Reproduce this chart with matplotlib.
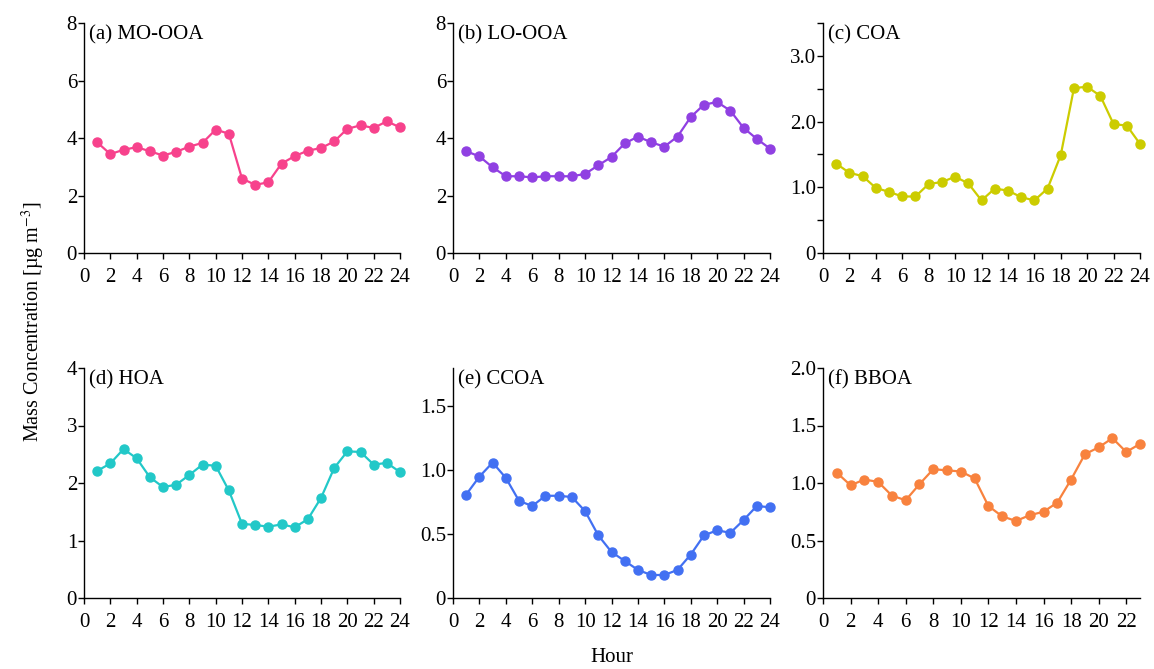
import numpy as np
import matplotlib
matplotlib.use("Agg")
import matplotlib.pyplot as plt
from matplotlib.ticker import FixedLocator

plt.rcParams["font.family"] = ["Liberation Serif", "DejaVu Serif"]
plt.rcParams["mathtext.fontset"] = "stix"

# ── data ──────────────────────────────────────
hours = list(range(1, 25))
hours_f = list(range(1, 24))

mo_ooa = [3.85, 3.44, 3.59, 3.68, 3.54, 3.39, 3.52, 3.70, 3.83, 4.29, 4.15, 2.59,
          2.37, 2.46, 3.11, 3.37, 3.56, 3.65, 3.88, 4.32, 4.44, 4.35, 4.58, 4.37]
lo_ooa = [3.54, 3.36, 2.98, 2.67, 2.67, 2.63, 2.67, 2.67, 2.67, 2.75, 3.05, 3.34,
          3.81, 4.05, 3.85, 3.70, 4.05, 4.73, 5.16, 5.25, 4.95, 4.35, 3.97, 3.63]
coa = [1.36, 1.22, 1.17, 0.99, 0.93, 0.86, 0.86, 1.05, 1.08, 1.16, 1.06, 0.80,
       0.98, 0.95, 0.85, 0.80, 0.98, 1.49, 2.51, 2.53, 2.39, 1.96, 1.94, 1.66]
hoa = [2.21, 2.34, 2.59, 2.43, 2.10, 1.93, 1.97, 2.14, 2.32, 2.30, 1.87, 1.29,
       1.27, 1.24, 1.28, 1.23, 1.37, 1.74, 2.26, 2.55, 2.54, 2.32, 2.35, 2.19]
ccoa = [0.81, 0.95, 1.06, 0.94, 0.76, 0.72, 0.80, 0.80, 0.79, 0.68, 0.49, 0.36,
        0.29, 0.22, 0.18, 0.18, 0.22, 0.34, 0.49, 0.53, 0.51, 0.61, 0.72, 0.71]
bboa = [1.09, 0.98, 1.03, 1.01, 0.89, 0.85, 0.99, 1.12, 1.11, 1.10, 1.04, 0.80,
        0.71, 0.67, 0.72, 0.75, 0.83, 1.03, 1.25, 1.31, 1.39, 1.27, 1.34]

labels = ["(a) MO-OOA", "(b) LO-OOA", "(c) COA", "(d) HOA", "(e) CCOA", "(f) BBOA"]
colors = ["#F7428C", "#9040E2", "#CCCC00", "#22C8C8", "#4270F2", "#F8823E"]

# ── figure ────────────────────────────────────
fig = plt.figure(figsize=(11.54, 6.69), dpi=100)
W, H = 1154, 669
lefts = [84, 453, 823]
rights = [400, 770, 1140]
rows = [(23, 253), (368, 598)]

panels = [
    (hours, mo_ooa, (0, 8), [0, 2, 4, 6, 8], ["0", "2", "4", "6", "8"], 24),
    (hours, lo_ooa, (0, 8), [0, 2, 4, 6, 8], ["0", "2", "4", "6", "8"], 24),
    (hours, coa, (0, 3.5), [0, 1, 2, 3], ["0", "1.0", "2.0", "3.0"], 24),
    (hours, hoa, (0, 4), [0, 1, 2, 3, 4], ["0", "1", "2", "3", "4"], 24),
    (hours, ccoa, (0, 1.8), [0, 0.5, 1.0, 1.5], ["0", "0.5", "1.0", "1.5"], 24),
    (hours_f, bboa, (0, 2.0), [0, 0.5, 1.0, 1.5, 2.0], ["0", "0.5", "1.0", "1.5", "2.0"], 23),
]

for i, (x, y, ylim, yt, ytl, xmax) in enumerate(panels):
    r, c = divmod(i, 3)
    top, bot = rows[r]
    ax = fig.add_axes([lefts[c] / W, 1 - bot / H,
                       (rights[c] - lefts[c]) / W, (bot - top) / H])
    ax.plot(x, y, "-o", color=colors[i], lw=1.6, ms=6.5, clip_on=False)
    ax.set_xlim(0, xmax)
    ax.set_ylim(*ylim)
    ax.set_xticks(range(0, 25, 2) if xmax == 24 else range(0, 23, 2))
    ax.set_yticks(yt)
    ax.set_yticklabels(ytl)
    if i == 2:
        ax.yaxis.set_minor_locator(FixedLocator([0.5, 1.5, 2.5, 3.5]))
    for s in ["top", "right"]:
        ax.spines[s].set_visible(False)
    for s in ["left", "bottom"]:
        ax.spines[s].set_linewidth(1.0)
    ax.tick_params(direction="out", length=4, width=1.0, labelsize=15)
    ax.tick_params(axis="x", pad=7)
    ax.tick_params(axis="y", pad=1)
    ax.tick_params(which="minor", direction="out", length=4, width=1.0)
    ax.text(0.015, 0.99, labels[i], transform=ax.transAxes, fontsize=15,
            ha="left", va="top")

fig.text(33 / W, 1 - 322 / H, "Mass Concentration [µg m$^{-3}$]",
         rotation=90, ha="center", va="center", fontsize=14.5)
fig.text(612 / W, 1 - 657 / H, "Hour", ha="center", va="center", fontsize=15)

fig.savefig("out.png", dpi=100)
